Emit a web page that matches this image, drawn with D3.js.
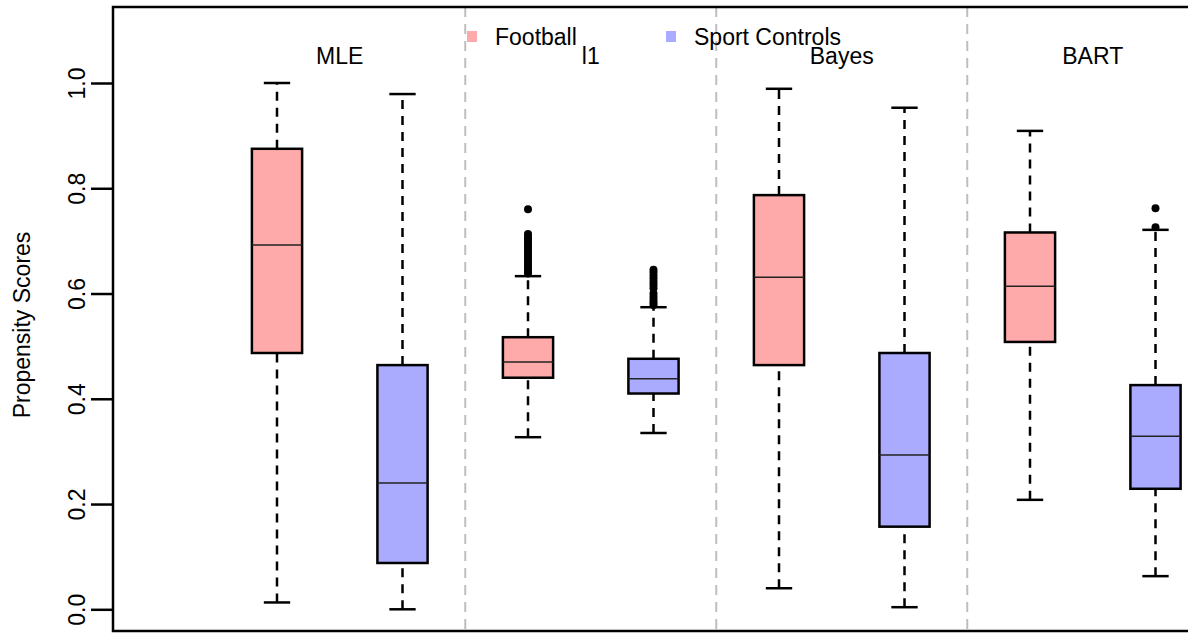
<!DOCTYPE html>
<html>
<head>
<meta charset="utf-8">
<script src="https://cdn.jsdelivr.net/npm/d3@7"></script>
<style>
html,body{margin:0;padding:0;background:#fff;}
text{font-family:"Liberation Sans",Arial,Helvetica,sans-serif;}
</style>
</head>
<body>
<svg id="chart" width="1188" height="633"></svg>
<script>
// ---- data ----
const methods = ["MLE", "l1", "Bayes", "BART"];
const groups = ["Football", "Sport Controls"];
const groupColors = ["#FFAAAA", "#AAAAFF"];
// [lower whisker, Q1, median, Q3, upper whisker]
const footballStats = [
  [0.013, 0.487, 0.692, 0.875, 1.000],
  [0.327, 0.440, 0.470, 0.517, 0.633],
  [0.040, 0.464, 0.631, 0.787, 0.989],
  [0.208, 0.508, 0.614, 0.716, 0.909]
];
const controlStats = [
  [0.000, 0.088, 0.240, 0.464, 0.979],
  [0.335, 0.410, 0.438, 0.476, 0.574],
  [0.004, 0.157, 0.293, 0.487, 0.953],
  [0.063, 0.229, 0.329, 0.426, 0.721]
];
const footballOutliers = [
  [],
  [0.638, 0.643, 0.648, 0.653, 0.658, 0.663, 0.668, 0.673, 0.678, 0.683, 0.688, 0.693, 0.698, 0.703, 0.708, 0.713, 0.760],
  [],
  []
];
const controlOutliers = [
  [],
  [0.578, 0.583, 0.588, 0.594, 0.600, 0.610, 0.616, 0.622, 0.628, 0.634, 0.640, 0.645],
  [],
  [0.726, 0.762]
];
const yTicks = [0.0, 0.2, 0.4, 0.6, 0.8, 1.0];
const yLabel = "Propensity Scores";

// ---- layout ----
const svg = d3.select("#chart");
const frame = {left: 113, top: 7, right: 1196, bottom: 631};
const x = d3.scaleLinear().domain([1, 8]).range([277, 1155.5]);
const y = d3.scaleLinear().domain([0, 1]).range([609.3, 83]);
const halfW = x(1.2) - x(1);
const capHalf = x(1.105) - x(1);

const boxes = [];
methods.forEach((m, i) => {
  boxes.push({pos: 2 * i + 1, stats: footballStats[i], out: footballOutliers[i], color: groupColors[0]});
  boxes.push({pos: 2 * i + 2, stats: controlStats[i], out: controlOutliers[i], color: groupColors[1]});
});

// separators
[2.5, 4.5, 6.5].forEach(p => {
  svg.append("line")
    .attr("x1", x(p)).attr("x2", x(p))
    .attr("y1", frame.top).attr("y2", frame.bottom)
    .attr("stroke", "#bebebe").attr("stroke-width", 2)
    .attr("stroke-dasharray", "10,7");
});

// boxes
const g = svg.append("g");
boxes.forEach(b => {
  const [lo, q1, med, q3, hi] = b.stats;
  const cx = x(b.pos);
  // whiskers
  [[lo, q1], [q3, hi]].forEach(([a, c]) => {
    g.append("line").attr("x1", cx).attr("x2", cx)
      .attr("y1", y(a)).attr("y2", y(c))
      .attr("stroke", "#000").attr("stroke-width", 2.5)
      .attr("stroke-dasharray", "9,7");
  });
  [lo, hi].forEach(v => {
    g.append("line").attr("x1", cx - capHalf).attr("x2", cx + capHalf)
      .attr("y1", y(v)).attr("y2", y(v))
      .attr("stroke", "#000").attr("stroke-width", 2.5);
  });
  g.append("rect")
    .attr("x", cx - halfW).attr("width", 2 * halfW)
    .attr("y", y(q3)).attr("height", y(q1) - y(q3))
    .attr("fill", b.color).attr("stroke", "#000").attr("stroke-width", 2.5);
  g.append("line").attr("x1", cx - halfW).attr("x2", cx + halfW)
    .attr("y1", y(med)).attr("y2", y(med))
    .attr("stroke", "#222").attr("stroke-width", 1.5);
  b.out.forEach(v => {
    g.append("circle").attr("cx", cx).attr("cy", y(v)).attr("r", 4).attr("fill", "#000");
  });
});

// frame
svg.append("rect")
  .attr("x", frame.left).attr("y", frame.top)
  .attr("width", frame.right - frame.left).attr("height", frame.bottom - frame.top)
  .attr("fill", "none").attr("stroke", "#000").attr("stroke-width", 2.5);

// y axis
const yAxis = svg.append("g").attr("transform", `translate(${frame.left},0)`)
  .call(d3.axisLeft(y).tickValues(yTicks).tickSize(22).tickFormat(d3.format(".1f")));
yAxis.select(".domain").remove();
yAxis.selectAll(".tick line").attr("stroke", "#000").attr("stroke-width", 2.5);
yAxis.selectAll(".tick text")
  .attr("x", 0).attr("dy", 0)
  .attr("transform", "translate(-28,0) rotate(-90)")
  .attr("text-anchor", "middle")
  .attr("font-size", 23).attr("fill", "#000")
  .attr("font-family", "Liberation Sans, Arial, sans-serif");

svg.append("text")
  .attr("transform", `translate(30,${325}) rotate(-90)`)
  .attr("text-anchor", "middle").attr("font-size", 23)
  .text(yLabel);

// method labels
methods.forEach((m, i) => {
  svg.append("text")
    .attr("x", (x(2 * i + 1) + x(2 * i + 2)) / 2)
    .attr("y", 64)
    .attr("text-anchor", "middle").attr("font-size", 23)
    .text(m);
});

// legend
const legendX = [472, 671];
groups.forEach((name, i) => {
  svg.append("rect")
    .attr("x", legendX[i] - 5).attr("y", 31)
    .attr("width", 10).attr("height", 11)
    .attr("fill", groupColors[i]);
  svg.append("text")
    .attr("x", legendX[i] + 23).attr("y", 45)
    .attr("font-size", 23)
    .text(name);
});
</script>
</body>
</html>
